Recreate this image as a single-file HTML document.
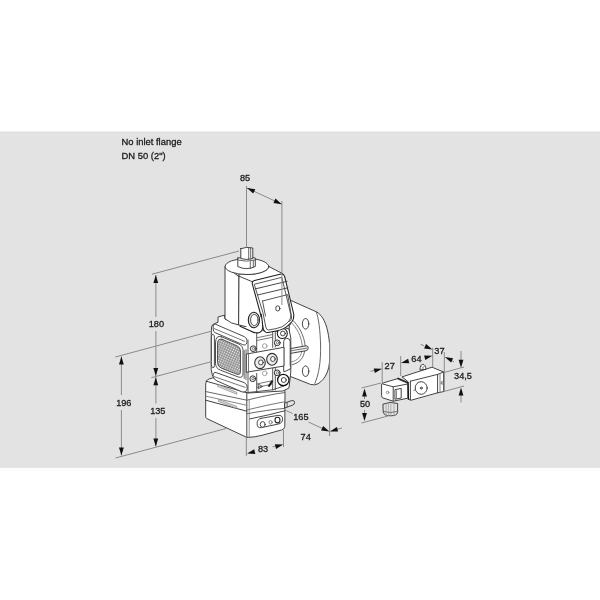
<!DOCTYPE html>
<html><head><meta charset="utf-8">
<style>
html,body{margin:0;padding:0;background:#fff;width:600px;height:600px;overflow:hidden}
#band{position:absolute;left:0;top:131px;width:600px;height:337px;background:linear-gradient(to bottom,#efefef 0,#efefef 1px,#dfdfdf 1px,#dfdfdf 2px,#e3e3e3 2px,#e3e3e3 335px,#e1e1e1 335px,#e1e1e1 336px,#e8e8e8 336px,#e8e8e8 337px)}
#band2{position:absolute;left:0;top:468px;width:600px;height:3px;background:#fcfcfc}
svg{position:absolute;left:0;top:0;filter:grayscale(1)}
text{font-family:"Liberation Sans",sans-serif;fill:#161616}
</style></head><body>
<div id="band"></div><div id="band2"></div>
<svg width="600" height="600" viewBox="0 0 600 600">
<g font-size="9.6" stroke="#222" stroke-width="0.3">
<text transform="translate(121.5,144.6) scale(0.98,1)">No inlet flange</text>
<text transform="translate(121.5,158.7) scale(0.98,1)">DN 50 (2")</text>
</g>
<defs>
<pattern id="mesh" width="2.3" height="2.3" patternUnits="userSpaceOnUse" patternTransform="rotate(24)">
<rect width="2.3" height="2.3" fill="#8e8e8e"/>
<circle cx="1.15" cy="1.15" r="0.72" fill="#f0f0f0"/>
</pattern>
</defs>
<g id="drawing" stroke-linejoin="round" stroke-linecap="round">
<!-- ===== FLANGE (behind) ===== -->
<g stroke="#303030" stroke-width="0.9" fill="#fff">
<path d="M290.5,300.3 L316.3,311.8 Q318.8,313 321,315.6 C325.5,321 328.6,331 329.6,345 L329.6,360 C329.2,370.5 325.5,379 318,383.8 Q314.5,385.6 310.5,384.4 L288,375.5 Z"/>
<path fill="none" stroke="#555" d="M316.3,312 C318.5,318 320.3,330 320.6,346 C320.8,362 319,374 314.8,383.5"/>
<ellipse cx="305.6" cy="323.8" rx="3.2" ry="5.3"/>
<ellipse cx="305.6" cy="371.2" rx="3.2" ry="5.3"/>
<path fill="none" stroke="#555" d="M292,319.5 C299,326 304,335 305.2,346"/>
<path fill="none" stroke="#777" d="M290.5,321.8 C297,327.8 301.3,336 302.4,346.5"/>
<path fill="none" stroke="#555" d="M304.5,351 C304,357.5 300,362.8 292,364.8"/>
<path fill="none" stroke="#888" d="M301.8,351.4 C301,356.8 297.5,360.6 291.2,362"/>
<path fill="#f4f4f4" d="M290.5,348.6 L306,345.8 Q308.2,345.7 308.2,348 Q308.2,350.4 306,350.7 L290.5,353.4 Z"/>
<path fill="none" stroke="#666" d="M291,350.8 L306.5,348.2"/>
</g>
<!-- ===== LOWER BOX ===== -->
<g stroke="#303030" stroke-width="0.9" fill="#fff">
<path d="M205.7,383.5 Q205.8,380 209,379 L213,377.8 L283,388 Q285,389 285,392 L284.8,426.5 Q284.5,429.2 281.5,430 L262,435.3 Q254,437.4 246.8,437.4 L206.8,418.6 Q205.7,418 205.7,416.5 Z"/>
<path fill="none" d="M206.2,381.2 L246.8,392.7 Q266,388.6 283.4,389.2"/>
<path fill="none" d="M246.8,392.7 L246.8,437.3"/>
<path fill="none" stroke="#555" d="M206,391.6 L246.8,400.2 Q268,394.8 284.5,392.6"/>
<path fill="none" stroke="#777" d="M206,396.2 L246.8,405.3"/>
<path fill="none" stroke="#2a2a2a" d="M206,400.3 L246.8,411.2"/>
<path fill="none" stroke="#666" d="M246.8,410 Q268,404.8 284.5,401.8"/>
<path fill="none" stroke="#555" d="M246.8,413.8 Q268,409.8 284.5,408.4"/>
<path fill="none" stroke="#333" d="M249.5,419 Q270,414.8 284.8,410.8"/>
<path fill="none" stroke="#888" d="M249.2,399.8 L249.2,437"/>
<path fill="#ddd" stroke="#777" stroke-width="0.6" d="M218,384.6 L236.8,392.3 L236.8,394.3 L218,386.6 Z"/>
<path fill="#ddd" stroke="#777" stroke-width="0.6" d="M218.8,399.6 L236.8,406.4 L236.8,408.4 L218.8,401.6 Z"/>
<!-- plug slot -->
<g transform="translate(0.3,2.6)">
<path fill="#fff" stroke="#333" d="M260.5,415.8 L277.5,412.8 Q282.3,412.2 282.3,416.5 Q282.3,420.6 277.8,421.5 L261,425 Q256.8,425.8 256.8,421 Q256.8,416.6 260.5,415.8 Z"/>
<ellipse cx="262.4" cy="421.8" rx="2.5" ry="2.8" fill="#fff" stroke="#333"/>
<ellipse cx="270.3" cy="419.7" rx="1.6" ry="1.8" fill="#fff" stroke="#777"/>
<ellipse cx="277.2" cy="417.5" rx="2.5" ry="2.8" fill="#fff" stroke="#222" stroke-width="1.1"/>
</g>
<!-- nozzle -->
<path fill="#e2e2e2" d="M285,403 L291.5,400.6 Q294.3,400 294.6,402.3 Q294.8,404.5 292.3,405.3 L285,407.8 Z"/>
<path fill="none" stroke="#555" d="M287.2,402.2 L287.2,407"/>
</g>
<!-- ===== VALVE BODY ===== -->
<g stroke="#303030" stroke-width="0.9" fill="#fff">
<!-- overall silhouette -->
<path d="M211.3,334 L211.6,327 Q212,324.4 214.5,323.6 L218,322.4 L218,317 L224.6,315.2 L225,319 L239,324.5 L265,331 L282,327 L289,329 L290.8,338 L290.8,372 L289,388 L283,391 L248,393 L243.5,391 L214.5,377.8 Q212.6,376.8 212.2,374.5 L211.3,370 Z"/>
<!-- mesh frame -->
<path fill="#fff" stroke="#3a3a3a" d="M221.5,336.8 L238.5,343.9 Q243,345.8 243,350.4 L243,373.2 Q243,378.6 238.3,377 L220.5,370.2 Q215.5,368.3 215.5,363.2 L215.5,343 Q215.6,334.6 221.5,336.8 Z"/>
<!-- mesh -->
<path fill="url(#mesh)" stroke="#444" d="M222.5,339.4 L237,345.8 Q240.5,347.4 240.5,351 L240.5,371.5 Q240.5,375.4 236.8,374.2 L221.5,368.2 Q217.5,366.6 217.5,362.5 L217.5,344 Q217.6,337.5 222.5,339.4 Z"/>
<path fill="none" stroke="#555" d="M244.2,350.5 L244.2,378.3 M246,349.5 L246,379.5"/>
<!-- left face top rim -->
<path fill="#fff" stroke="#3a3a3a" d="M213.2,326.3 Q213,323.6 215.6,324.3 L244.2,336.6 Q247.6,338.4 246.9,342.6 Q246,346 242.6,344.6 L215,332.6 Q213.3,331.8 213.2,329.5 Z"/>
<path fill="none" stroke="#666" d="M214.2,328.6 L244.6,341.3"/>
<!-- left bar -->
<path fill="#fff" stroke="#3a3a3a" d="M211.4,336.5 Q211.5,333.8 213,334.2 Q214.4,334.8 214.4,337.2 L214.4,365.5 Q214.4,368 212.9,367.6 Q211.4,367.1 211.4,364.8 Z"/>
<!-- bottom rim -->
<path fill="#fff" stroke="#333" d="M213.2,374.8 Q213.4,371.8 216.2,372.6 L244.2,382.6 Q247.6,384.2 247.3,388.2 Q246.6,392.8 242,391.9 L216.8,380.8 Q213.4,379.2 213.2,376.8 Z"/>
<path fill="none" stroke="#666" d="M214.2,376.6 L245.2,387.4"/>
<!-- front face structure -->
<path fill="none" stroke="#444" d="M248,340 L248,392.5 M256.7,333 L256.7,353 M256.7,373.5 L256.7,392 M272.7,330 L272.7,347.5 M275.3,330 L275.3,347 M272.7,366.5 L272.7,390 M275.3,366 L275.3,390"/>
<path fill="#fff" stroke="#333" d="M283.7,371.2 L283.7,341.5 Q283.8,338.3 286.8,338.3 Q290.2,338.4 290.2,341.5 L290.2,365.5 Q291.2,367.8 290.2,369 L286,371 Z"/>
<path fill="none" stroke="#666" d="M256.7,337.8 L272.7,334.5 M256.7,340.5 L272.7,337.2 M256.7,384 L272.7,380.6 M256.7,387.5 L272.7,384"/>
<path fill="none" stroke="#444" d="M248,392.5 L257,391.5 L272.7,389.8 L284,386"/>
<circle cx="264.7" cy="346" r="2.3" fill="none" stroke="#999"/>
<circle cx="264.7" cy="373.3" r="2.3" fill="none" stroke="#999"/>
<!-- plate -->
<path d="M246.7,354 L284,347.3 L284,366 L246.7,372.2 Z"/>
<path fill="none" stroke="#666" d="M248.5,353.8 L248.5,372"/>
<!-- screws -->
<ellipse cx="260" cy="362.7" rx="5.3" ry="5.9" stroke="#333" stroke-width="1.1" fill="#ececec"/>
<ellipse cx="260.9" cy="362.4" rx="2.3" ry="2.5" stroke="#333"/>
<ellipse cx="272" cy="359.3" rx="5.3" ry="5.9" stroke="#333" stroke-width="1.1" fill="#ececec"/>
<ellipse cx="272.9" cy="359" rx="2.3" ry="2.5" stroke="#333"/>
<circle cx="253.3" cy="348.7" r="2.9" stroke="#333" stroke-width="1" fill="#f0f0f0"/>
<circle cx="253.60000000000002" cy="348.59999999999997" r="1.2" stroke="#555" stroke-width="0.7"/>
<circle cx="277.3" cy="342.8" r="2.9" stroke="#333" stroke-width="1" fill="#f0f0f0"/>
<circle cx="277.6" cy="342.7" r="1.2" stroke="#555" stroke-width="0.7"/>
<circle cx="252.8" cy="378.7" r="2.9" stroke="#333" stroke-width="1" fill="#f0f0f0"/>
<circle cx="253.10000000000002" cy="378.59999999999997" r="1.2" stroke="#555" stroke-width="0.7"/>
<circle cx="277.2" cy="372.8" r="2.9" stroke="#333" stroke-width="1" fill="#f0f0f0"/>
<circle cx="277.5" cy="372.7" r="1.2" stroke="#555" stroke-width="0.7"/>
<!-- washers -->
<path fill="#fff" stroke="#444" d="M275.5,331 L276.5,327 L279.5,325.6 L281.5,326.4 L282,328.5 L278,331 Z"/>
<circle cx="282.3" cy="333.5" r="5" stroke="#222" stroke-width="1.1"/>
<circle cx="282.9" cy="333.5" r="2.4"/>
<circle cx="283.3" cy="380" r="5.7" stroke="#111" stroke-width="1.2"/>
<circle cx="283.8" cy="380" r="2.5"/>
<path fill="none" stroke="#444" d="M258.6,384.3 L262.6,386.4 L258.6,388.6 Z"/>
<path fill="#1a1a1a" stroke="none" d="M267.6,386.2 L271.4,380.4 L273.4,381 L269.6,386.9 Z"/>
</g>
<!-- ===== ACTUATOR ===== -->
<g stroke="#303030" stroke-width="0.9" fill="#fff">
<!-- cylinder body -->
<path d="M225,266.5 L225,318.8 Q231,324 239,325 L239,277 Z"/>
<!-- box -->
<path d="M239,276.2 L239,273.9 A21.8,8 0 0 0 268.8,266.5 L283.3,274 L292,313 L293.6,315 L290,325 L265,331 L239,325 Z"/>
<ellipse cx="247" cy="266.5" rx="21.8" ry="8"/>
<path fill="none" d="M239,276.2 L252.5,281.8"/>
<!-- stem -->
<path d="M237.8,258 L237.8,266.5 Q246.5,270.8 255.3,266.5 L255.3,258 Q246.5,255.5 237.8,258 Z"/>
<path fill="none" stroke="#555" d="M237.8,260 Q246.5,262.5 255.3,260 M250.3,261.5 L250.3,268.5 M253.3,260.5 L253.3,267"/>
<path d="M240.8,248.6 L240.8,258.6 Q246.8,260.4 252.8,258.5 L252.8,248 Q246.8,246.4 240.8,248.6 Z"/>
<path fill="none" stroke="#555" d="M248.7,248 L248.7,259.6 M250.7,247.8 L250.7,259.3"/>
<!-- front panel -->
<path stroke="#1e1e1e" stroke-width="1.05" d="M252.3,283.8 Q251.8,281.2 254.5,280.5 L281,274 Q283.8,273.5 284.6,276.3 L293.6,313.5 Q294.5,318 292,321.5 L288,325.5 Q284,329.6 276,331 L268,332.5 Q264.3,333 263.1,328 L260.5,314 Z"/>
<path fill="none" stroke="#444" d="M254.6,284.2 L281.8,277.3 L290.8,314.5 Q291.3,318 289,321 L286,324 Q282.5,327.5 276,328.6 L268.5,330 Q266.5,330.2 265.8,327 L263,313 Z"/>
<path fill="none" stroke="#333" d="M255.3,288.9 L287,281.3 M257.7,295 L287.8,287.8"/>
<path fill="none" stroke="#444" d="M262.5,301 L287.7,294.6 L291.6,317 Q292,319.5 289.5,321.5 M262.5,301 L265.5,316"/>
<ellipse cx="277.8" cy="308.4" rx="2.1" ry="2.6"/>
<!-- round boss -->
<path fill="#fff" stroke="none" d="M262.6,318 L263,329 Q262.6,332.4 259,332.8 Q254.5,333.4 251,331 L246,328 L250,314 Z"/>
<path fill="none" stroke="#1e1e1e" stroke-width="1.1" d="M261.2,314 Q262.4,321 262.7,326.5 Q262.8,331.6 259,332.7 Q255,333.5 251.2,331.3 L240,326.2"/>
<ellipse cx="253.9" cy="320" rx="5.6" ry="7.8" stroke="#1e1e1e" stroke-width="1.1" fill="#e4e4e4"/>
<ellipse cx="254.3" cy="320" rx="3.7" ry="5.6" stroke="#444" fill="#fff"/>
</g>
<!-- ===== CONNECTOR UNIT ===== -->
<g stroke="#303030" stroke-width="0.9" fill="#fff">
<!-- main body -->
<path d="M402.4,376.8 L432,367.2 L443.6,372 L443.6,391.6 L437.6,392.8 L411.2,400.2 L409.6,399.6 L408.4,399.2 L408.4,382.4 Z"/>
<path fill="none" d="M410.4,381.2 L437.6,374.4 L443.6,372 M410.4,381.2 L410.4,400 M437.6,374.4 L437.6,392.8"/>
<path fill="none" stroke="#777" d="M440,373.4 L440,392.3"/>
<ellipse cx="421.2" cy="388" rx="6" ry="6.3"/>
<circle cx="421.3" cy="388.1" r="1"/>
<path fill="none" stroke="#555" d="M413.8,390.8 L414.6,389.8"/>
<rect x="441.6" y="381.8" width="1.7" height="2.2" stroke-width="0.6"/>
<path d="M420,369.6 Q420,364.6 422.8,364.4 Q425.8,364.6 425.9,369 Z"/>
<path fill="none" stroke="#666" stroke-width="0.6" d="M421.6,366.5 L423.8,368.4 M422.2,368.6 L424.4,365.8"/>
<path stroke="#111" stroke-width="1.5" fill="none" d="M398,378.4 L407.6,382.6 L408.4,399"/>
<!-- plug -->
<path d="M381.6,384.6 Q381.8,383.2 383.5,382.8 L397.2,378.8 L407.6,383.2 L407.8,398.2 L393.2,401.2 L382.6,397.8 Q381.6,397.3 381.6,396 Z"/>
<path fill="none" d="M382.8,384 L393.2,386.8 L407.6,384 M393.2,386.8 L393.2,401"/>
<path d="M395.3,389.6 L401.2,388.4 L401.2,398 L395.3,399.2 Z"/>
<path fill="none" stroke="#777" d="M396.5,390.6 L396.5,398.6"/>
<circle cx="387.6" cy="392.4" r="1.3" stroke="#888"/>
<!-- gland -->
<path fill="#e4e4e4" d="M383.3,404 Q390,401 397.6,403.5 L397.6,412.5 Q397,415.8 390.4,415.8 Q384,415.8 383.3,412.5 Z"/>
<path fill="none" stroke="#999" stroke-width="0.7" d="M386,404 L386,415 M388.4,403.2 L388.4,415.6 M390.8,403 L390.8,415.8 M394,403.3 L394,415.4"/>
<path fill="none" stroke="#666" d="M383.4,411.5 Q390,413.8 397.5,411.5"/>
</g>
</g>

<g stroke="#8a8a8a" stroke-width="1" fill="none">
<path d="M246.5,186L246.5,247"/>
<path d="M281.9,201L281.9,305"/>
<path d="M247,188L281.7,204.2"/>
<path d="M152,274.2L239,251"/>
<path d="M155.9,275L155.9,317"/>
<path d="M155.9,331L155.9,376"/>
<path d="M151.3,377.7L212,361.5"/>
<path d="M155.9,377L155.9,403.5"/>
<path d="M155.9,418L155.9,446.5"/>
<path d="M115.3,357L212,331"/>
<path d="M121.4,356.5L121.4,395"/>
<path d="M121.4,410L121.4,455.5"/>
<path d="M115.5,458L226,428.5"/>
<path d="M246.3,437L246.3,456"/>
<path d="M283.5,430L283.5,447"/>
<path d="M272.5,446.8L276,445.9"/>
<path d="M286,410.5L292.5,413.5"/>
<path d="M308.5,422L322,428.3"/>
<path d="M329.6,342L329.6,436"/>
<path d="M337,429.3L342,428"/>
<path d="M382.2,362L382.2,383"/>
<path d="M400.7,356L400.7,376"/>
<path d="M432.7,347.7L432.7,367"/>
<path d="M444.3,352L444.3,392"/>
<path d="M370.6,371.4L376,370"/>
<path d="M420.5,344.2L424,345.8"/>
<path d="M451,360.5L454,361.8"/>
<path d="M444,372.5L464,367"/>
<path d="M444,391.5L464,386"/>
<path d="M461,351L461,360"/>
<path d="M461,395L461,402.5"/>
<path d="M361.5,388L381,383"/>
<path d="M361.5,423L388,416"/>
<path d="M364.5,396L364.5,399"/>
<path d="M364.5,410L364.5,413"/>
</g>
<g fill="#111">
<path d="M247.0,188.0L255.3,189.2L253.2,193.6Z"/>
<path d="M281.7,204.2L273.4,203.0L275.5,198.6Z"/>
<path d="M155.8,275.0L158.2,283.0L153.4,283.0Z"/>
<path d="M155.8,376.0L153.4,368.0L158.2,368.0Z"/>
<path d="M155.8,377.2L158.2,385.2L153.4,385.2Z"/>
<path d="M155.8,446.5L153.4,438.5L158.2,438.5Z"/>
<path d="M121.4,356.4L123.8,364.4L119.0,364.4Z"/>
<path d="M121.4,455.6L119.0,447.6L123.8,447.6Z"/>
<path d="M247.0,453.6L254.2,449.3L255.3,454.0Z"/>
<path d="M283.2,444.6L276.0,448.9L274.9,444.2Z"/>
<path d="M329.4,431.4L321.1,430.4L323.1,426.0Z"/>
<path d="M329.8,431.4L336.9,427.0L338.1,431.6Z"/>
<path d="M382.0,368.8L374.9,373.1L373.7,368.5Z"/>
<path d="M401.0,363.0L408.1,358.7L409.3,363.3Z"/>
<path d="M432.4,355.7L425.3,360.0L424.1,355.4Z"/>
<path d="M432.4,349.6L424.1,348.4L426.1,344.1Z"/>
<path d="M444.8,357.0L453.1,358.2L451.1,362.5Z"/>
<path d="M461.0,367.8L458.6,359.8L463.4,359.8Z"/>
<path d="M461.0,387.6L463.4,395.6L458.6,395.6Z"/>
<path d="M364.5,388.6L366.9,396.6L362.1,396.6Z"/>
<path d="M364.5,421.0L362.1,413.0L366.9,413.0Z"/>
</g>
<g font-size="9.9" text-anchor="middle" stroke="#222" stroke-width="0.3">
<text transform="translate(245,180.6) scale(0.93,1)">85</text>
<text transform="translate(156.4,327.4) scale(0.93,1)">180</text>
<text transform="translate(157.8,413.9) scale(0.93,1)">135</text>
<text transform="translate(123.8,405.9) scale(0.93,1)">196</text>
<text transform="translate(263,452.2) scale(0.93,1)">83</text>
<text transform="translate(300.9,420.1) scale(0.93,1)">165</text>
<text transform="translate(305.7,439.9) scale(0.93,1)">74</text>
<text transform="translate(389.7,369.0) scale(0.93,1)">27</text>
<text transform="translate(416.4,362.4) scale(0.93,1)">64</text>
<text transform="translate(439.4,354.1) scale(0.93,1)">37</text>
<text transform="translate(463,379.4) scale(0.93,1)">34,5</text>
<text transform="translate(365,407.2) scale(0.93,1)">50</text>
</g>
</svg>
</body></html>
